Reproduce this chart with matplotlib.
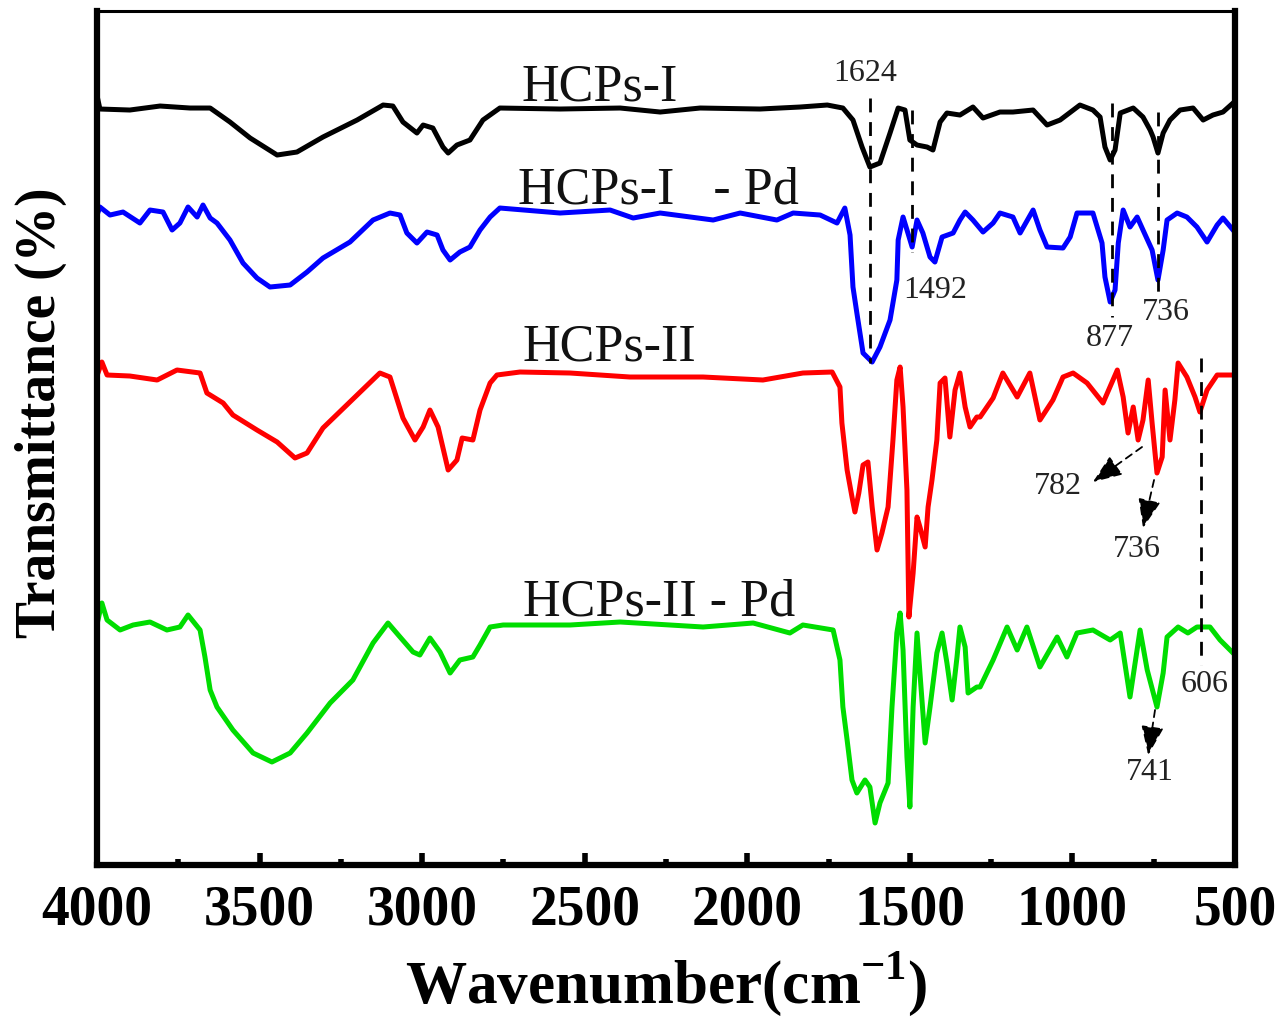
import matplotlib
matplotlib.use("Agg")
import matplotlib.pyplot as plt
from matplotlib.ticker import MultipleLocator

plt.rcParams["font.family"] = "Liberation Serif"
plt.rcParams["mathtext.fontset"] = "custom"
plt.rcParams["mathtext.rm"] = "Liberation Serif"
plt.rcParams["mathtext.bf"] = "Liberation Serif:bold"

# FTIR spectra, transmittance in arbitrary offset units
WN_I = [3997, 3991, 3899, 3806, 3714, 3652, 3591, 3529, 3446, 3385, 3305, 3200,
        3120, 3090, 3059, 3016, 2997, 2967, 2936, 2920, 2893, 2853, 2813, 2761,
        2576, 2391, 2268, 2145, 1961, 1838, 1754, 1706, 1675, 1647, 1623, 1592,
        1561, 1536, 1515, 1500, 1478, 1447, 1429, 1407, 1386, 1346, 1306, 1275,
        1223, 1183, 1121, 1078, 1038, 977, 937, 915, 900, 884, 869, 853, 813,
        783, 761, 752, 737, 721, 700, 669, 629, 598, 568, 537, 506]
T_I = [765, 756, 755, 759, 757, 757, 743, 727, 710, 713, 728, 745,
       760, 759, 743, 732, 740, 737, 718, 712, 720, 725, 745, 757,
       756, 757, 753, 757, 756, 758, 760, 757, 745, 718, 698, 702,
       732, 757, 755, 725, 720, 718, 715, 743, 752, 750, 758, 747,
       753, 753, 755, 740, 745, 760, 755, 748, 718, 705, 715, 752, 757,
       748, 735, 728, 712, 732, 745, 755, 757, 745, 750, 753, 762]

WN_I_PD = [4000, 3991, 3960, 3920, 3868, 3837, 3797, 3769, 3745, 3720, 3692, 3674,
           3652, 3631, 3591, 3551, 3508, 3468, 3406, 3354, 3305, 3222, 3151, 3099,
           3068, 3047, 3016, 2985, 2954, 2936, 2914, 2884, 2853, 2822, 2791, 2761,
           2576, 2422, 2351, 2268, 2105, 2022, 1909, 1859, 1776, 1724, 1700, 1684,
           1675, 1663, 1644, 1616, 1592, 1561, 1540, 1536, 1521, 1506, 1493, 1478,
           1460, 1438, 1423, 1401, 1367, 1346, 1330, 1306, 1275, 1244, 1223, 1183,
           1161, 1121, 1100, 1078, 1029, 1007, 986, 937, 909, 900, 884, 869, 859,
           844, 823, 801, 783, 755, 737, 721, 709, 678, 648, 617, 586, 555, 537, 506]
T_I_PD = [650, 658, 650, 653, 642, 655, 653, 635, 642, 658, 648, 660,
          647, 642, 625, 602, 587, 578, 580, 593, 607, 623, 645, 652,
          650, 632, 622, 633, 630, 615, 605, 613, 618, 635, 648, 657,
          652, 655, 647, 652, 645, 652, 645, 652, 650, 642, 657, 630,
          578, 552, 512, 503, 518, 545, 585, 625, 648, 632, 618, 645,
          632, 608, 603, 628, 632, 645, 653, 645, 633, 642, 652, 648,
          632, 655, 635, 618, 617, 628, 652, 652, 622, 588, 563, 575, 622,
          655, 638, 648, 635, 615, 585, 615, 645, 652, 648, 638, 623, 640, 647, 635]

WN_II = [3997, 3985, 3969, 3899, 3815, 3754, 3683, 3662, 3612, 3582, 3508, 3446,
         3391, 3354, 3305, 3200, 3130, 3099, 3059, 3022, 2997, 2976, 2951, 2920,
         2893, 2877, 2844, 2822, 2791, 2770, 2699, 2545, 2361, 2136, 1952, 1829,
         1739, 1715, 1709, 1693, 1678, 1669, 1657, 1644, 1629, 1616, 1601, 1586,
         1567, 1552, 1540, 1530, 1521, 1509, 1503, 1490, 1478, 1469, 1453, 1444,
         1432, 1417, 1407, 1392, 1377, 1361, 1346, 1330, 1315, 1294, 1284, 1244,
         1214, 1170, 1131, 1100, 1060, 1029, 998, 955, 906, 862, 844, 829, 813,
         798, 783, 767, 755, 740, 724, 715, 700, 685, 675, 648, 623, 608, 586,
         555, 506]
T_II = [492, 503, 490, 489, 485, 495, 492, 472, 462, 450, 435, 423,
        407, 412, 437, 470, 492, 488, 447, 425, 438, 455, 438, 395,
        405, 427, 425, 455, 482, 490, 493, 492, 488, 488, 485, 492,
        493, 478, 442, 395, 368, 353, 372, 400, 403, 358, 315, 332,
        358, 425, 485, 498, 458, 375, 248, 292, 348, 338, 318, 358,
        385, 425, 482, 487, 428, 475, 492, 458, 438, 448, 448, 467,
        492, 468, 492, 445, 465, 488, 492, 482, 462, 495, 468, 432, 458,
        425, 445, 485, 442, 392, 408, 475, 425, 465, 502, 488, 468, 453, 475,
        490, 490]

WN_II_PD = [3997, 3985, 3969, 3929, 3889, 3837, 3785, 3745, 3720, 3683, 3668, 3652,
            3631, 3582, 3520, 3462, 3406, 3354, 3283, 3213, 3151, 3105, 3068, 3028,
            3007, 2976, 2945, 2914, 2884, 2844, 2822, 2791, 2751, 2545, 2391, 2136,
            1982, 1869, 1829, 1736, 1715, 1706, 1693, 1678, 1663, 1638, 1623, 1607,
            1592, 1567, 1555, 1540, 1530, 1521, 1509, 1500, 1490, 1478, 1469, 1453,
            1438, 1417, 1401, 1386, 1370, 1355, 1346, 1330, 1321, 1294, 1284, 1244,
            1201, 1170, 1140, 1100, 1047, 1017, 986, 937, 884, 853, 823, 792, 770,
            740, 721, 709, 675, 645, 617, 577, 546, 506]
T_II_PD = [245, 262, 245, 235, 240, 243, 235, 238, 250, 235, 208, 175,
           158, 135, 112, 103, 112, 132, 162, 185, 222, 242, 228, 213,
           210, 227, 213, 192, 205, 208, 220, 238, 240, 240, 243, 238,
           242, 232, 240, 235, 205, 158, 125, 85, 72, 85, 78, 42,
           62, 82, 158, 232, 252, 215, 108, 58, 158, 232, 192, 122,
           158, 212, 232, 202, 165, 208, 238, 218, 172, 178, 178, 205,
           238, 215, 238, 198, 228, 208, 232, 235, 225, 232, 168, 235, 195,
           158, 192, 228, 238, 232, 238, 238, 225, 212]

SERIES = [("HCPs-I", WN_I, T_I, "#000000"),
          ("HCPs-I   - Pd", WN_I_PD, T_I_PD, "#0000ff"),
          ("HCPs-II", WN_II, T_II, "#ff0000"),
          ("HCPs-II - Pd", WN_II_PD, T_II_PD, "#00dd00")]

# curve name placement (left edge wavenumber, baseline)
NAME_WN = [2693, 2705, 2690, 2690]
NAME_Y = [765, 662, 505, 250]

# dashed guide lines at marked peaks
PEAK_WN = [1624, 1492, 877, 736, 606]
PEAK_TOP = [767, 755, 762, 753, 507]
PEAK_BOT = [502, 613, 548, 572, 200]
PEAK_LBL = ["1624", "1492", "877", "736", "606"]
PEAK_LBL_WN = [1638, 1521, 884, 712, 592]
PEAK_LBL_Y = [792, 575, 527, 553, 180]

# dashed arrows pointing to labels
ARROW_FROM = [(786, 418), (749, 385), (746, 155)]
ARROW_TO = [(937, 383), (783, 337), (767, 110)]
ARROW_LBL = ["782", "736", "741"]
ARROW_LBL_POS = [(1044, 379), (801, 316), (761, 92)]

fig = plt.figure(figsize=(12.83, 10.21), dpi=100)
ax = fig.add_axes([0.0756, 0.1528, 0.8870, 0.8364])

for name, wn, t, c in SERIES:
    ax.plot(wn, t, color=c, lw=3.6, solid_joinstyle="round")

for (name, _, _, _), x, y in zip(SERIES, NAME_WN, NAME_Y):
    ax.text(x, y, name, fontsize=37.5, ha="left", va="baseline", color="#111111")

for x, y0, y1 in zip(PEAK_WN, PEAK_TOP, PEAK_BOT):
    ax.plot([x, x], [y0, y1], color="k", lw=2.0, ls=(0, (5, 3.5)))

for lbl, x, y in zip(PEAK_LBL, PEAK_LBL_WN, PEAK_LBL_Y):
    ha = "left" if lbl == "1492" else "center"
    ax.text(x, y, lbl, fontsize=23, ha=ha, va="center", color="#222222")

for p0, p1, lbl, pos in zip(ARROW_FROM, ARROW_TO, ARROW_LBL, ARROW_LBL_POS):
    ax.annotate("", xy=p1, xytext=p0,
                arrowprops=dict(arrowstyle="-|>,head_length=0.9,head_width=0.35",
                                ls=(0, (4, 3)), lw=1.3, color="k",
                                shrinkA=0, shrinkB=0, mutation_scale=20))
    ax.text(pos[0], pos[1], lbl, fontsize=23, ha="center", va="center", color="#222222")

ax.set_xlim(4000, 500)
ax.set_ylim(0, 854)
ax.set_yticks([])
ax.xaxis.set_major_locator(MultipleLocator(500))
ax.xaxis.set_minor_locator(MultipleLocator(250))
ax.tick_params(axis="x", which="major", direction="in", length=9, width=4,
               labelsize=40, pad=14)
ax.tick_params(axis="x", which="minor", direction="in", length=4, width=4)
for lab in ax.get_xticklabels():
    lab.set_fontweight("bold")
for s in ("left", "bottom", "right"):
    ax.spines[s].set_linewidth(4.5)
ax.spines["top"].set_linewidth(2.2)

ax.set_xlabel(r"Wavenumber(cm$^{\mathbf{-1}}$)", fontsize=44, fontweight="bold", labelpad=10)
ax.set_ylabel("Transmittance (%)", fontsize=40, fontweight="bold")
ax.yaxis.set_label_coords(-0.026, 0.53)

fig.savefig("out.png", dpi=100)
